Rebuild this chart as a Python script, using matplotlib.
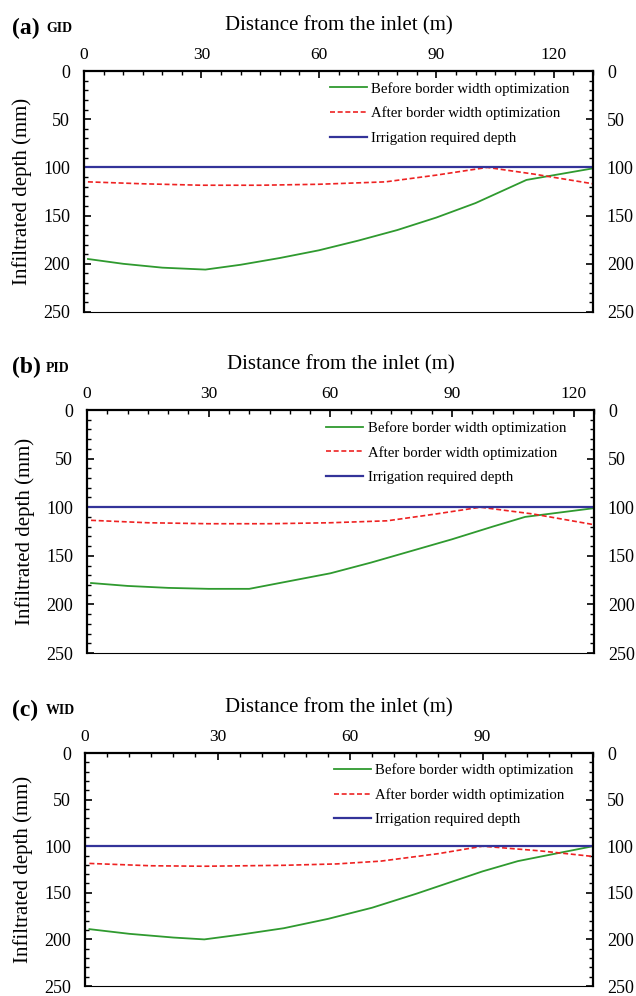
import matplotlib
matplotlib.use("Agg")
import matplotlib.pyplot as plt
from matplotlib.ticker import MultipleLocator

plt.rcParams["font.family"] = ["Liberation Serif", "DejaVu Serif"]

# panel (a) GID
gid_before_x = [1, 10, 20, 31, 40, 50, 60, 70, 80, 90, 100, 113, 130]
gid_before_y = [195, 200, 204, 206, 201, 194, 186, 176, 165, 152, 137, 113, 101]
gid_after_x = [1, 15, 30, 45, 60, 77, 90, 103, 115, 130]
gid_after_y = [115, 117, 118.5, 118.5, 117.5, 115, 108, 100, 107, 117]

# panel (b) PID
pid_before_x = [1, 10, 20, 30, 40, 50, 60, 70, 80, 90, 100, 108, 125]
pid_before_y = [178, 181, 183, 184, 184, 176, 168, 157, 145, 133, 120, 110, 101]
pid_after_x = [1, 15, 30, 45, 60, 74, 86, 97, 110, 125]
pid_after_y = [113.5, 116, 117, 117, 116, 114, 107, 100, 107, 118]

# panel (c) WID
wid_before_x = [1, 10, 20, 27, 35, 45, 55, 65, 75, 85, 90, 98, 115]
wid_before_y = [189, 194, 198, 200, 195, 188, 178, 166, 151, 135, 127, 116, 100]
wid_after_x = [1, 15, 27, 45, 57, 67, 80, 90, 103, 115]
wid_after_y = [118.5, 121, 121.5, 120.5, 119, 116, 108, 100, 105, 111]

required_depth = 100
panel_letters = ["(a)", "(b)", "(c)"]
panel_names = ["GID", "PID", "WID"]
field_lengths = [130, 125, 115]
legend_labels = [
    "Before border width optimization",
    "After border width optimization",
    "Irrigation required depth",
]

panels = [
    (gid_before_x, gid_before_y, gid_after_x, gid_after_y),
    (pid_before_x, pid_before_y, pid_after_x, pid_after_y),
    (wid_before_x, wid_before_y, wid_after_x, wid_after_y),
]

# axes boxes in pixels: left, top, right, bottom
boxes = [(84, 71, 593, 312), (87, 410, 594, 653), (85, 753, 593, 986)]
legend_x = [0.483, 0.472, 0.49]

W, H = 636, 996
fig = plt.figure(figsize=(W / 100, H / 100), dpi=100)

for i, (bx, by, ax_, ay) in enumerate(panels):
    l, t, r, b = boxes[i]
    ax = fig.add_axes([l / W, 1 - b / H, (r - l) / W, (b - t) / H])

    ax.plot(bx, by, color="#2f9a2f", lw=1.3, label=legend_labels[0])
    ax.plot(ax_, ay, color="#ee2222", lw=1.2, ls=(0, (3, 1.6)),
            label=legend_labels[1])
    ax.plot([0, field_lengths[i]], [required_depth, required_depth],
            color="#333399", lw=1.6, label=legend_labels[2])

    ax.set_xlim(0, field_lengths[i])
    ax.set_ylim(250, 0)
    ax.xaxis.set_major_locator(MultipleLocator(30))
    ax.xaxis.set_minor_locator(MultipleLocator(5))
    ax.yaxis.set_major_locator(MultipleLocator(50))
    ax.yaxis.set_minor_locator(MultipleLocator(10))

    ax.xaxis.tick_top()
    ax.xaxis.set_label_position("top")
    ax.tick_params(axis="x", which="both", direction="in", top=True,
                   bottom=False, labeltop=True, labelbottom=False,
                   labelsize=12.5, pad=6)
    ax.tick_params(axis="y", which="both", direction="in", left=True,
                   right=True, labelleft=True, labelright=True,
                   labelsize=13, pad=10)
    ax.tick_params(which="major", length=5, width=1.2)
    ax.tick_params(which="minor", length=3, width=1.0)

    for side in ["left", "top", "right"]:
        ax.spines[side].set_linewidth(1.6)
    ax.spines["bottom"].set_linewidth(0.8)

    ax.set_xlabel("Distance from the inlet (m)", fontsize=15, labelpad=12)
    ax.set_ylabel("Infiltrated depth (mm)", fontsize=15, labelpad=8)

    ax.legend(
        loc="upper left",
        bbox_to_anchor=(legend_x[i], 0.955),
        frameon=False,
        fontsize=10.6,
        handlelength=2.5,
        handletextpad=0.3,
        labelspacing=0.75,
        borderpad=0,
        borderaxespad=0,
    )

    fig.text(12 / W, 1 - (t - 43) / H, panel_letters[i], fontsize=17,
             fontweight="bold", va="center", ha="left")
    fig.text(46 / W, 1 - (t - 42) / H, panel_names[i], fontsize=10,
             fontweight="bold", va="center", ha="left")

fig.savefig("out.png", dpi=100)
